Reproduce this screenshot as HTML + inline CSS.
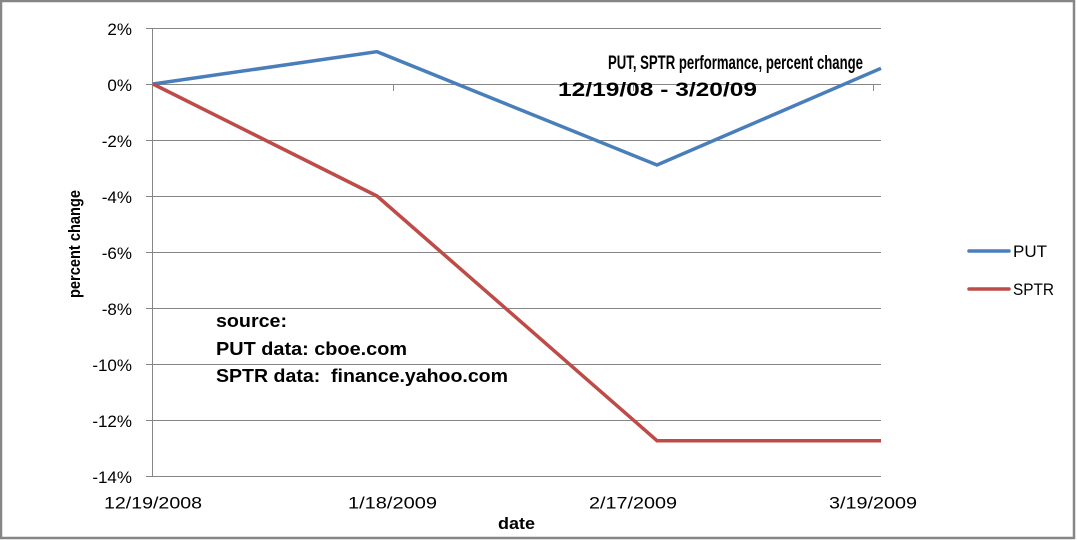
<!DOCTYPE html>
<html>
<head>
<meta charset="utf-8">
<style>
  html,body{margin:0;padding:0;background:#fff;}
  svg{display:block;}
  text{font-family:"Liberation Sans",sans-serif;fill:#000;}
  .b{font-weight:bold;}
</style>
</head>
<body>
<svg width="1077" height="540" viewBox="0 0 1077 540" xmlns="http://www.w3.org/2000/svg">
  <rect x="0" y="0" width="1077" height="540" fill="#fff"/>
  <rect x="1" y="1" width="1073" height="537" fill="none" stroke="#868686" stroke-width="2.5"/>

  <!-- gridlines -->
  <g stroke="#868686" stroke-width="1">
    <line x1="146" y1="28.5" x2="881" y2="28.5"/>
    <line x1="146" y1="84.5" x2="881" y2="84.5"/>
    <line x1="146" y1="140.5" x2="881" y2="140.5"/>
    <line x1="146" y1="196.5" x2="881" y2="196.5"/>
    <line x1="146" y1="252.5" x2="881" y2="252.5"/>
    <line x1="146" y1="308.5" x2="881" y2="308.5"/>
    <line x1="146" y1="364.5" x2="881" y2="364.5"/>
    <line x1="146" y1="420.5" x2="881" y2="420.5"/>
    <line x1="146" y1="476.5" x2="881" y2="476.5"/>
    <!-- y axis -->
    <line x1="152.5" y1="28" x2="152.5" y2="477"/>
    <!-- x ticks -->
    <line x1="393.5" y1="84" x2="393.5" y2="91"/>
    <line x1="633.5" y1="84" x2="633.5" y2="91"/>
    <line x1="873.5" y1="84" x2="873.5" y2="91"/>
  </g>

  <!-- y labels -->
  <g font-size="17" text-anchor="end">
    <text x="132" y="35">2%</text>
    <text x="132" y="91">0%</text>
    <text x="132" y="147">-2%</text>
    <text x="132" y="203">-4%</text>
    <text x="132" y="259">-6%</text>
    <text x="132" y="315">-8%</text>
    <text x="132" y="371">-10%</text>
    <text x="132" y="427">-12%</text>
    <text x="132" y="483">-14%</text>
  </g>

  <!-- x labels -->
  <g font-size="17">
    <text x="104" y="508.5" textLength="98" lengthAdjust="spacingAndGlyphs">12/19/2008</text>
    <text x="348" y="508.5" textLength="89" lengthAdjust="spacingAndGlyphs">1/18/2009</text>
    <text x="589" y="508.5" textLength="88" lengthAdjust="spacingAndGlyphs">2/17/2009</text>
    <text x="829" y="508.5" textLength="88" lengthAdjust="spacingAndGlyphs">3/19/2009</text>
  </g>

  <!-- axis titles -->
  <text class="b" x="498" y="529" font-size="17" textLength="37" lengthAdjust="spacingAndGlyphs">date</text>
  <text class="b" font-size="17" transform="translate(80,298) rotate(-90)" textLength="108" lengthAdjust="spacingAndGlyphs">percent change</text>

  <!-- series -->
  <polyline points="153,84 377,51.7 657,165 881,68.3" fill="none" stroke="#4A7EBB" stroke-width="3.5" stroke-linejoin="miter"/>
  <polyline points="153,84 377,196 657,440.7 881,440.7" fill="none" stroke="#BE4B48" stroke-width="3.5" stroke-linejoin="miter"/>

  <!-- chart title -->
  <text class="b" x="608" y="69" font-size="19" textLength="255" lengthAdjust="spacingAndGlyphs">PUT, SPTR performance, percent change</text>
  <text class="b" x="558" y="96" font-size="19" textLength="199" lengthAdjust="spacingAndGlyphs">12/19/08 - 3/20/09</text>

  <!-- source note -->
  <g class="b" font-size="18">
    <text class="b" x="216" y="327" textLength="71" lengthAdjust="spacingAndGlyphs">source:</text>
    <text class="b" x="216" y="355" textLength="191" lengthAdjust="spacingAndGlyphs">PUT data: cboe.com</text>
    <text class="b" x="216" y="382" textLength="292" lengthAdjust="spacingAndGlyphs" xml:space="preserve">SPTR data:  finance.yahoo.com</text>
  </g>

  <!-- legend -->
  <line x1="969" y1="251" x2="1009" y2="251" stroke="#4A7EBB" stroke-width="3.5" stroke-linecap="round"/>
  <text x="1013" y="257" font-size="17" textLength="34" lengthAdjust="spacingAndGlyphs">PUT</text>
  <line x1="969" y1="289" x2="1009" y2="289" stroke="#BE4B48" stroke-width="3.5" stroke-linecap="round"/>
  <text x="1013" y="295" font-size="17" textLength="41" lengthAdjust="spacingAndGlyphs">SPTR</text>
</svg>
</body>
</html>
